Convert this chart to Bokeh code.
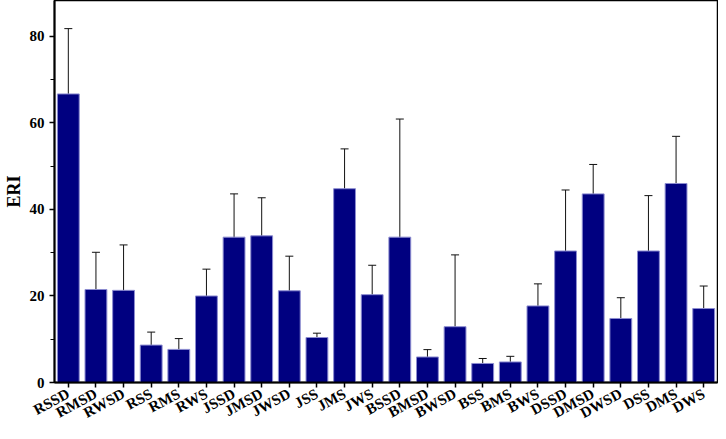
from bokeh.plotting import figure
from bokeh.models import ColumnDataSource, Whisker, TeeHead, FixedTicker, Range1d
from bokeh.embed import file_html
from bokeh.resources import INLINE

categories = ["RSSD", "RMSD", "RWSD", "RSS", "RMS", "RWS",
              "JSSD", "JMSD", "JWSD", "JSS", "JMS", "JWS",
              "BSSD", "BMSD", "BWSD", "BSS", "BMS", "BWS",
              "DSSD", "DMSD", "DWSD", "DSS", "DMS", "DWS"]
eri_mean = [66.7, 21.5, 21.3, 8.65, 7.65, 20.0,
            33.6, 33.9, 21.2, 10.4, 44.8, 20.3,
            33.6, 5.9, 12.9, 4.4, 4.75, 17.7,
            30.4, 43.6, 14.8, 30.4, 46.0, 17.1]
eri_err = [15.1, 8.6, 10.5, 3.0, 2.5, 6.2,
           10.0, 8.8, 8.0, 1.0, 9.2, 6.8,
           27.3, 1.7, 16.6, 1.15, 1.3, 5.1,
           14.1, 6.8, 4.8, 12.8, 10.9, 5.2]
y_ticks = [0, 20, 40, 60, 80]
y_minor = [10, 30, 50, 70]

upper = [m + e for m, e in zip(eri_mean, eri_err)]
lower = [m - e for m, e in zip(eri_mean, eri_err)]
source = ColumnDataSource(dict(cat=categories, val=eri_mean, upper=upper, lower=lower))

FONT = "Liberation Serif"

p = figure(x_range=categories, width=718, height=431, output_backend="svg",
           toolbar_location=None, min_border_left=43, min_border_right=1,
           min_border_top=0, min_border_bottom=20)
p.y_range = Range1d(0, 88.3)

p.vbar(x="cat", top="val", width=0.79, source=source,
       fill_color="#000080", line_color="#8c8cd0", line_width=1)

w = Whisker(base="cat", upper="upper", lower="lower", source=source,
            line_color="#111111", line_width=1,
            upper_head=TeeHead(size=8, line_color="#111111", line_width=1),
            lower_head=TeeHead(size=8, line_color="#111111", line_width=1))
p.add_layout(w)

p.xgrid.grid_line_color = None
p.ygrid.grid_line_color = None
p.outline_line_color = "black"
p.outline_line_width = 1.5
p.background_fill_color = "white"
p.border_fill_color = "white"

p.yaxis.ticker = FixedTicker(ticks=y_ticks, minor_ticks=y_minor)
p.yaxis.axis_label = "ERI"
p.yaxis.axis_label_text_font = FONT
p.yaxis.axis_label_text_font_style = "bold"
p.yaxis.axis_label_text_font_size = "18px"
p.yaxis.axis_label_text_color = "black"
p.yaxis.axis_label_standoff = 3
p.yaxis.major_label_text_font = FONT
p.yaxis.major_label_text_font_style = "bold"
p.yaxis.major_label_text_font_size = "15px"
p.yaxis.major_label_text_color = "black"
p.yaxis.major_label_standoff = 5
p.yaxis.axis_line_width = 2
p.yaxis.axis_line_color = "black"
p.yaxis.major_tick_line_width = 1.5
p.yaxis.major_tick_line_color = "black"
p.yaxis.major_tick_out = 5
p.yaxis.major_tick_in = 0
p.yaxis.minor_tick_out = 4
p.yaxis.minor_tick_in = 0
p.yaxis.minor_tick_line_width = 1
p.yaxis.minor_tick_line_color = "black"

p.xaxis.major_label_orientation = 0.5
p.xaxis.major_label_text_font = FONT
p.xaxis.major_label_text_font_style = "bold"
p.xaxis.major_label_text_font_size = "15px"
p.xaxis.major_label_text_color = "black"
p.xaxis.major_label_standoff = 5
p.xaxis.axis_line_width = 2
p.xaxis.axis_line_color = "black"
p.xaxis.major_tick_line_width = 1.5
p.xaxis.major_tick_line_color = "black"
p.xaxis.major_tick_out = 5
p.xaxis.major_tick_in = 0
p.x_range.range_padding = 0.0

open("out.html", "w").write(file_html(p, INLINE))
